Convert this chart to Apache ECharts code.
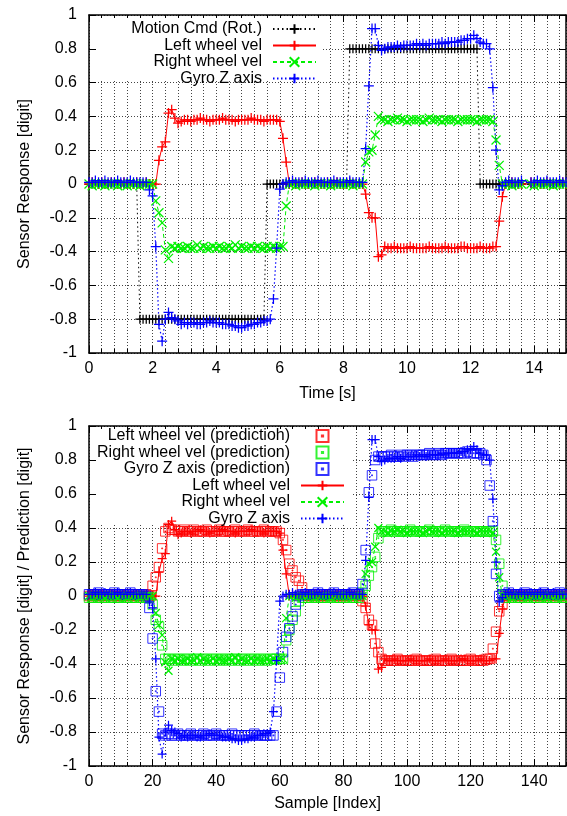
<!DOCTYPE html>
<html><head><meta charset="utf-8">
<script src="https://cdn.jsdelivr.net/npm/echarts@6/dist/echarts.min.js"></script>
<style>html,body{margin:0;padding:0;background:#fff}#c{width:567px;height:816px}</style>
</head><body><div id="c"></div>
<script>
// ---- data ----
const time = [
0,0.1,0.2,0.3,0.4,0.5,0.6,0.7,0.8,0.9,
1,1.1,1.2,1.3,1.4,1.5,1.6,1.7,1.8,1.9,
2,2.1,2.2,2.3,2.4,2.5,2.6,2.7,2.8,2.9,
3,3.1,3.2,3.3,3.4,3.5,3.6,3.7,3.8,3.9,
4,4.1,4.2,4.3,4.4,4.5,4.6,4.7,4.8,4.9,
5,5.1,5.2,5.3,5.4,5.5,5.6,5.7,5.8,5.9,
6,6.1,6.2,6.3,6.4,6.5,6.6,6.7,6.8,6.9,
7,7.1,7.2,7.3,7.4,7.5,7.6,7.7,7.8,7.9,
8,8.1,8.2,8.3,8.4,8.5,8.6,8.7,8.8,8.9,
9,9.1,9.2,9.3,9.4,9.5,9.6,9.7,9.8,9.9,
10,10.1,10.2,10.3,10.4,10.5,10.6,10.7,10.8,10.9,
11,11.1,11.2,11.3,11.4,11.5,11.6,11.7,11.8,11.9,
12,12.1,12.2,12.3,12.4,12.5,12.6,12.7,12.8,12.9,
13,13.1,13.2,13.3,13.4,13.5,13.6,13.9,14,14.1,
14.2,14.3,14.4,14.5,14.6,14.7,14.8,14.9,15,15.1,
15.2];
const sampleIndex = time.map((t, i) => i);

const cmdRot = [
0,0,0,0,0,0,0,0,0,0,
0,0,0,0,0,0,-0.8,-0.8,-0.8,-0.8,
-0.8,-0.8,-0.8,-0.8,-0.8,-0.8,-0.8,-0.8,-0.8,-0.8,
-0.8,-0.8,-0.8,-0.8,-0.8,-0.8,-0.8,-0.8,-0.8,-0.8,
-0.8,-0.8,-0.8,-0.8,-0.8,-0.8,-0.8,-0.8,-0.8,-0.8,
-0.8,-0.8,-0.8,-0.8,-0.8,-0.8,0,0,0,0,
0,0,0,0,0,0,0,0,0,0,
0,0,0,0,0,0,0,0,0,0,
0,0,0.8,0.8,0.8,0.8,0.8,0.8,0.8,0.8,
0.8,0.8,0.8,0.8,0.8,0.8,0.8,0.8,0.8,0.8,
0.8,0.8,0.8,0.8,0.8,0.8,0.8,0.8,0.8,0.8,
0.8,0.8,0.8,0.8,0.8,0.8,0.8,0.8,0.8,0.8,
0.8,0.8,0.8,0,0,0,0,0,0,0,
0,0,0,0,0,0,0,0,0,0,
0,0,0,0,0,0,0,0,0,0,
0];

const leftVel = [
0,0.01,0,0,0.01,0,0,0.01,0,0,
0,0.01,0,0,0,0.01,0,0,0.01,0,
0,0,0.14,0.22,0.25,0.42,0.44,0.39,0.36,0.37,
0.38,0.38,0.37,0.38,0.38,0.39,0.38,0.38,0.37,0.38,
0.38,0.38,0.39,0.38,0.38,0.38,0.37,0.38,0.38,0.38,
0.38,0.39,0.38,0.38,0.38,0.37,0.38,0.38,0.38,0.38,
0.37,0.27,0.13,0,0.01,0,0,0.01,0,0,
0,0.01,0,0,0,0.01,0,0,0.01,0,
0,0,0.01,0,0,0,0,-0.06,-0.17,-0.2,
-0.2,-0.43,-0.42,-0.37,-0.38,-0.38,-0.37,-0.38,-0.38,-0.38,
-0.38,-0.37,-0.38,-0.38,-0.38,-0.38,-0.38,-0.37,-0.38,-0.38,
-0.38,-0.38,-0.37,-0.38,-0.38,-0.38,-0.38,-0.37,-0.37,-0.38,
-0.38,-0.38,-0.38,-0.37,-0.38,-0.38,-0.38,-0.37,-0.37,-0.22,
-0.075,0,0,0.01,0,0,0,0.01,0,0,
0,0,0.01,0,0,0,0,0.01,0,0,
0];

const rightVel = [
0,-0.01,0,0,0,-0.01,0,0,0,-0.01,
0,0,-0.01,0,0,0,-0.01,0,0,0,
0,-0.1,-0.17,-0.23,-0.39,-0.44,-0.37,-0.38,-0.37,-0.38,
-0.38,-0.37,-0.38,-0.38,-0.36,-0.38,-0.37,-0.38,-0.38,-0.37,
-0.38,-0.37,-0.38,-0.38,-0.37,-0.38,-0.36,-0.38,-0.37,-0.38,
-0.38,-0.37,-0.38,-0.37,-0.38,-0.38,-0.37,-0.38,-0.37,-0.38,
-0.37,-0.37,-0.13,0,0,-0.01,0,0,0,0,
0,-0.01,0,0,0,0,-0.01,0,0,0,
0,0,0,-0.01,0,0,0,0.13,0.19,0.2,
0.29,0.4,0.38,0.38,0.37,0.38,0.38,0.39,0.38,0.38,
0.37,0.38,0.38,0.38,0.38,0.37,0.38,0.39,0.38,0.38,
0.38,0.37,0.38,0.38,0.38,0.38,0.37,0.38,0.38,0.38,
0.38,0.38,0.37,0.38,0.38,0.38,0.38,0.37,0.26,0.11,
0,0,0,-0.01,0,0,0,0,-0.01,0,
0,0,0,0,-0.01,0,0,0,0,-0.01,
0];

const gyroZ = [
0.01,0.01,0.02,0.01,0.01,0.02,0.01,0.01,0.01,0.02,
0.01,0.01,0.01,0.02,0.01,0.01,0.01,0.01,0.01,-0.035,
-0.07,-0.37,-0.83,-0.93,-0.8,-0.76,-0.79,-0.8,-0.81,-0.83,
-0.82,-0.83,-0.82,-0.82,-0.83,-0.83,-0.82,-0.82,-0.81,-0.82,
-0.82,-0.82,-0.83,-0.83,-0.83,-0.84,-0.84,-0.85,-0.85,-0.84,
-0.84,-0.83,-0.83,-0.82,-0.82,-0.81,-0.81,-0.8,-0.68,-0.38,
-0.03,0,0.01,0.01,0.02,0.01,0.01,0.01,0.02,0.01,
0.01,0.01,0.02,0.01,0.01,0.01,0.01,0.02,0.01,0.01,
0.01,0.01,0.02,0.01,0.01,0.01,0.01,0.21,0.58,0.92,
0.92,0.82,0.79,0.8,0.81,0.81,0.81,0.82,0.81,0.82,
0.82,0.82,0.82,0.83,0.82,0.83,0.82,0.83,0.83,0.83,
0.83,0.84,0.83,0.84,0.84,0.84,0.84,0.85,0.85,0.86,
0.86,0.88,0.86,0.84,0.83,0.83,0.8,0.57,0.2,-0.035,
-0.01,0.01,0.02,0.01,0.01,0.01,0.02,0.01,0.01,0.02,
0.01,0.01,0.02,0.01,0.01,0.01,0.02,0.01,0.01,0.01,
0.01];

const leftPred = [
0,0,0.01,0,0,0,0.01,0,0,0,
0,0,0,0.01,0,0,0,0,0.01,0,
0.06,0.11,0.17,0.28,0.38,0.4,0.39,0.39,0.38,0.38,
0.39,0.38,0.38,0.39,0.38,0.38,0.38,0.39,0.38,0.38,
0.38,0.39,0.38,0.38,0.38,0.38,0.39,0.38,0.38,0.38,
0.39,0.38,0.38,0.38,0.38,0.39,0.38,0.38,0.38,0.38,
0.37,0.33,0.27,0.19,0.15,0.11,0.09,0.05,0.01,0,
0,0.01,0,0,0,0,0.01,0,0,0,
0,0,0,0.01,0,0,-0.03,-0.07,-0.14,-0.17,
-0.28,-0.33,-0.37,-0.38,-0.38,-0.38,-0.38,-0.37,-0.38,-0.38,
-0.38,-0.38,-0.38,-0.37,-0.38,-0.38,-0.38,-0.38,-0.38,-0.37,
-0.38,-0.38,-0.38,-0.38,-0.37,-0.38,-0.38,-0.38,-0.38,-0.38,
-0.37,-0.38,-0.38,-0.38,-0.38,-0.37,-0.37,-0.31,-0.21,-0.09,
-0.05,0,0,0,0.01,0,0,0,0,0.01,
0,0,0,0,0,0.01,0,0,0,0,
0];

const rightPred = [
-0.01,-0.01,0,-0.01,-0.01,-0.01,0,-0.01,-0.01,-0.01,
-0.01,0,-0.01,-0.01,-0.01,-0.01,0,-0.01,-0.01,-0.01,
-0.05,-0.14,-0.18,-0.29,-0.37,-0.37,-0.38,-0.37,-0.37,-0.38,
-0.37,-0.37,-0.38,-0.37,-0.37,-0.38,-0.37,-0.37,-0.38,-0.37,
-0.37,-0.38,-0.37,-0.37,-0.38,-0.37,-0.37,-0.38,-0.37,-0.37,
-0.38,-0.37,-0.37,-0.38,-0.37,-0.37,-0.38,-0.37,-0.37,-0.37,
-0.37,-0.37,-0.26,-0.2,-0.14,-0.09,-0.03,-0.01,-0.01,-0.01,
-0.01,0,-0.01,-0.01,-0.01,-0.01,0,-0.01,-0.01,-0.01,
-0.01,0,-0.01,-0.01,-0.01,-0.01,0.02,0.06,0.12,0.17,
0.23,0.34,0.38,0.38,0.38,0.39,0.38,0.38,0.38,0.38,
0.38,0.39,0.38,0.38,0.38,0.38,0.38,0.39,0.38,0.38,
0.38,0.38,0.39,0.38,0.38,0.38,0.38,0.38,0.39,0.38,
0.38,0.38,0.38,0.38,0.38,0.38,0.38,0.38,0.33,0.19,
0.06,-0.01,-0.01,0,-0.01,-0.01,-0.01,-0.01,0,-0.01,
-0.01,-0.01,-0.01,0,-0.01,-0.01,-0.01,-0.01,0,-0.01,
-0.01];

const gyroPred = [
0.01,0.01,0.01,0.02,0.01,0.01,0.01,0.01,0.02,0.01,
0.01,0.01,0.01,0.02,0.01,0.01,0.01,0.01,0,-0.07,
-0.25,-0.56,-0.68,-0.81,-0.82,-0.81,-0.82,-0.82,-0.81,-0.82,
-0.82,-0.82,-0.81,-0.82,-0.82,-0.82,-0.81,-0.82,-0.82,-0.82,
-0.81,-0.82,-0.82,-0.82,-0.82,-0.81,-0.82,-0.82,-0.82,-0.82,
-0.82,-0.82,-0.81,-0.82,-0.82,-0.82,-0.82,-0.82,-0.82,-0.68,
-0.48,-0.33,-0.24,-0.19,-0.12,-0.05,0,0.01,0.01,0.01,
0.01,0.01,0.02,0.01,0.01,0.01,0.01,0.02,0.01,0.01,
0.01,0.01,0.01,0.02,0.01,0.01,0.07,0.27,0.61,0.71,
0.8,0.82,0.82,0.82,0.82,0.83,0.82,0.82,0.83,0.82,
0.83,0.83,0.82,0.83,0.83,0.83,0.83,0.84,0.83,0.83,
0.84,0.83,0.84,0.84,0.84,0.84,0.84,0.84,0.84,0.85,
0.84,0.84,0.84,0.84,0.83,0.8,0.65,0.44,0.13,0,
0.01,0.01,0.02,0.01,0.01,0.01,0.01,0.02,0.01,0.01,
0.01,0.01,0.01,0.02,0.01,0.01,0.01,0.01,0.02,0.01,
0.01];

const yTicks = [-1,-0.8,-0.6,-0.4,-0.2,0,0.2,0.4,0.6,0.8,1];
const timeTicks = [0,2,4,6,8,10,12,14];
const indexTicks = [0,20,40,60,80,100,120,140];
const timeRange = [0, 15];
const indexRange = [0, 150];

const topLegend = ['Motion Cmd (Rot.)','Left wheel vel','Right wheel vel','Gyro Z axis'];
const bottomLegend = ['Left wheel vel (predictioh)','Right wheel vel (prediction)','Gyro Z axis (prediction)','Left wheel vel','Right wheel vel','Gyro Z axis'];

// ---- styling ----
const FONT = 'Liberation Sans, Arial, Helvetica, sans-serif';
const PLUS = 'path://M5,0L5,10M0,5L10,5';
const CROSS = 'path://M0,0L10,10M10,0L0,10';
const SQUARE = 'path://M0,0L10,0L10,10L0,10Z M4.5,4.5L5.5,4.5L5.5,5.5L4.5,5.5Z';
const RED = '#ff0000', GREEN = '#00f000', BLUE = '#0000ff', BLACK = '#000000';
const GRIDLINE = {show: true, lineStyle: {color: '#444', width: 1, type: [1, 2]}};
const BORDER = {show: true, onZero: false, lineStyle: {color: '#000', width: 1.5}};
const NOLINE = {show: false, onZero: false};

function xAxesFor(gi, range, major, minor, nameText, gap) {
  const base = {type: 'value', gridIndex: gi, min: range[0], max: range[1]};
  return [
    Object.assign({}, base, {position: 'bottom', interval: major,
      axisLine: BORDER,
      axisTick: {show: true, inside: true, length: 7, lineStyle: {color: '#000'}},
      axisLabel: {show: true, color: '#000', fontSize: 16, fontFamily: FONT, margin: 8, showMaxLabel: false},
      splitLine: {show: false},
      name: nameText, nameLocation: 'middle', nameGap: gap,
      nameTextStyle: {color: '#000', fontSize: 16, fontFamily: FONT}}),
    Object.assign({}, base, {position: 'bottom', interval: minor,
      axisLine: NOLINE, axisLabel: {show: false},
      axisTick: {show: true, inside: true, length: 4, lineStyle: {color: '#000'}},
      splitLine: GRIDLINE}),
    Object.assign({}, base, {position: 'top', interval: major,
      axisLine: BORDER,
      axisTick: {show: true, inside: true, length: 7, lineStyle: {color: '#000'}},
      axisLabel: {show: false}, splitLine: {show: false}}),
    Object.assign({}, base, {position: 'top', interval: minor,
      axisLine: NOLINE, axisLabel: {show: false},
      axisTick: {show: true, inside: true, length: 4, lineStyle: {color: '#000'}},
      splitLine: {show: false}})
  ];
}
function yAxesFor(gi, nameText) {
  const base = {type: 'value', gridIndex: gi, min: yTicks[0], max: yTicks[yTicks.length - 1],
    interval: +(yTicks[1] - yTicks[0]).toFixed(2)};
  return [
    Object.assign({}, base, {position: 'left',
      axisLine: BORDER,
      axisTick: {show: true, inside: true, length: 7, lineStyle: {color: '#000'}},
      axisLabel: {show: true, color: '#000', fontSize: 16, fontFamily: FONT, margin: 12},
      splitLine: GRIDLINE,
      name: nameText, nameLocation: 'middle', nameGap: 56, nameRotate: 90,
      nameTextStyle: {color: '#000', fontSize: 16, fontFamily: FONT}}),
    Object.assign({}, base, {position: 'right',
      axisLine: BORDER,
      axisTick: {show: true, inside: true, length: 7, lineStyle: {color: '#000'}},
      axisLabel: {show: false}, splitLine: {show: false}})
  ];
}

function lineSeries(name, xs, ys, color, symbol, size, type, lw, xi, yi) {
  return {
    name, type: 'line', xAxisIndex: xi, yAxisIndex: yi,
    data: xs.map((x, i) => [x, ys[i]]),
    symbol, symbolSize: size, showSymbol: true, showAllSymbol: true,
    itemStyle: {color: 'rgba(0,0,0,0)', borderColor: color, borderWidth: 1.25},
    lineStyle: {color, width: lw, type},
    emphasis: {disabled: true}, silent: true, animation: false
  };
}
function scatterSeries(name, xs, ys, color, xi, yi) {
  return {
    name, type: 'scatter', xAxisIndex: xi, yAxisIndex: yi,
    data: xs.map((x, i) => [x, ys[i]]),
    symbol: SQUARE, symbolSize: 9.5,
    itemStyle: {color: 'rgba(0,0,0,0)', borderColor: color, borderWidth: 1},
    emphasis: {disabled: true}, silent: true, animation: false
  };
}

const series = [
  lineSeries(topLegend[0], time, cmdRot, BLACK, PLUS, 9, [1.5, 3], 1, 0, 0),
  lineSeries(topLegend[1], time, leftVel, RED, PLUS, 10, 'solid', 1, 0, 0),
  lineSeries(topLegend[2], time, rightVel, GREEN, CROSS, 9, [4, 3], 1, 0, 0),
  lineSeries(topLegend[3], time, gyroZ, BLUE, PLUS, 10, [1.5, 2.5], 1.2, 0, 0),
  scatterSeries(bottomLegend[0], sampleIndex, leftPred, RED, 4, 2),
  scatterSeries(bottomLegend[1], sampleIndex, rightPred, GREEN, 4, 2),
  scatterSeries(bottomLegend[2], sampleIndex, gyroPred, BLUE, 4, 2),
  lineSeries(bottomLegend[3], sampleIndex, leftVel, RED, PLUS, 9, 'solid', 1, 4, 2),
  lineSeries(bottomLegend[4], sampleIndex, rightVel, GREEN, CROSS, 8, [4, 3], 1, 4, 2),
  lineSeries(bottomLegend[5], sampleIndex, gyroZ, BLUE, PLUS, 9, [1.5, 2.5], 1.2, 4, 2)
];

const legendCommon = {
  orient: 'vertical', align: 'right', padding: 0, itemWidth: 43, itemHeight: 12, itemGap: 0.5,
  selectedMode: false, inactiveColor: '#000',
  textStyle: {color: '#000', fontSize: 16, fontFamily: FONT, lineHeight: 16, padding: [0, 6, 0, 0]}
};

const option = {
  animation: false,
  backgroundColor: '#fff',
  textStyle: {fontFamily: FONT},
  grid: [
    {left: 89, top: 15, width: 477, height: 338, containLabel: false},
    {left: 89, top: 426, width: 477, height: 340, containLabel: false}
  ],
  xAxis: [].concat(
    xAxesFor(0, timeRange, timeTicks[1] - timeTicks[0], 0.4, 'Time [s]', 33),
    xAxesFor(1, indexRange, indexTicks[1] - indexTicks[0], 4, 'Sample [Index]', 30)
  ),
  yAxis: [].concat(
    yAxesFor(0, 'Sensor Response [digit]'),
    yAxesFor(1, 'Sensor Response [digit] / Prediction [digit]')
  ),
  graphic: [
    {type: 'rect', z: 1, silent: true, shape: {x: 96, y: 18, width: 227, height: 62}, style: {fill: '#fff'}},
    {type: 'rect', z: 1, silent: true, shape: {x: 96, y: 429, width: 256, height: 95}, style: {fill: '#fff'}}
  ],
  legend: [
    Object.assign({}, legendCommon, {data: topLegend, right: 250, top: 21}),
    Object.assign({}, legendCommon, {data: bottomLegend, right: 222, top: 428})
  ],
  series
};

const chart = echarts.init(document.getElementById('c'), null, {renderer: 'canvas'});
chart.setOption(option);
</script>
</body></html>
